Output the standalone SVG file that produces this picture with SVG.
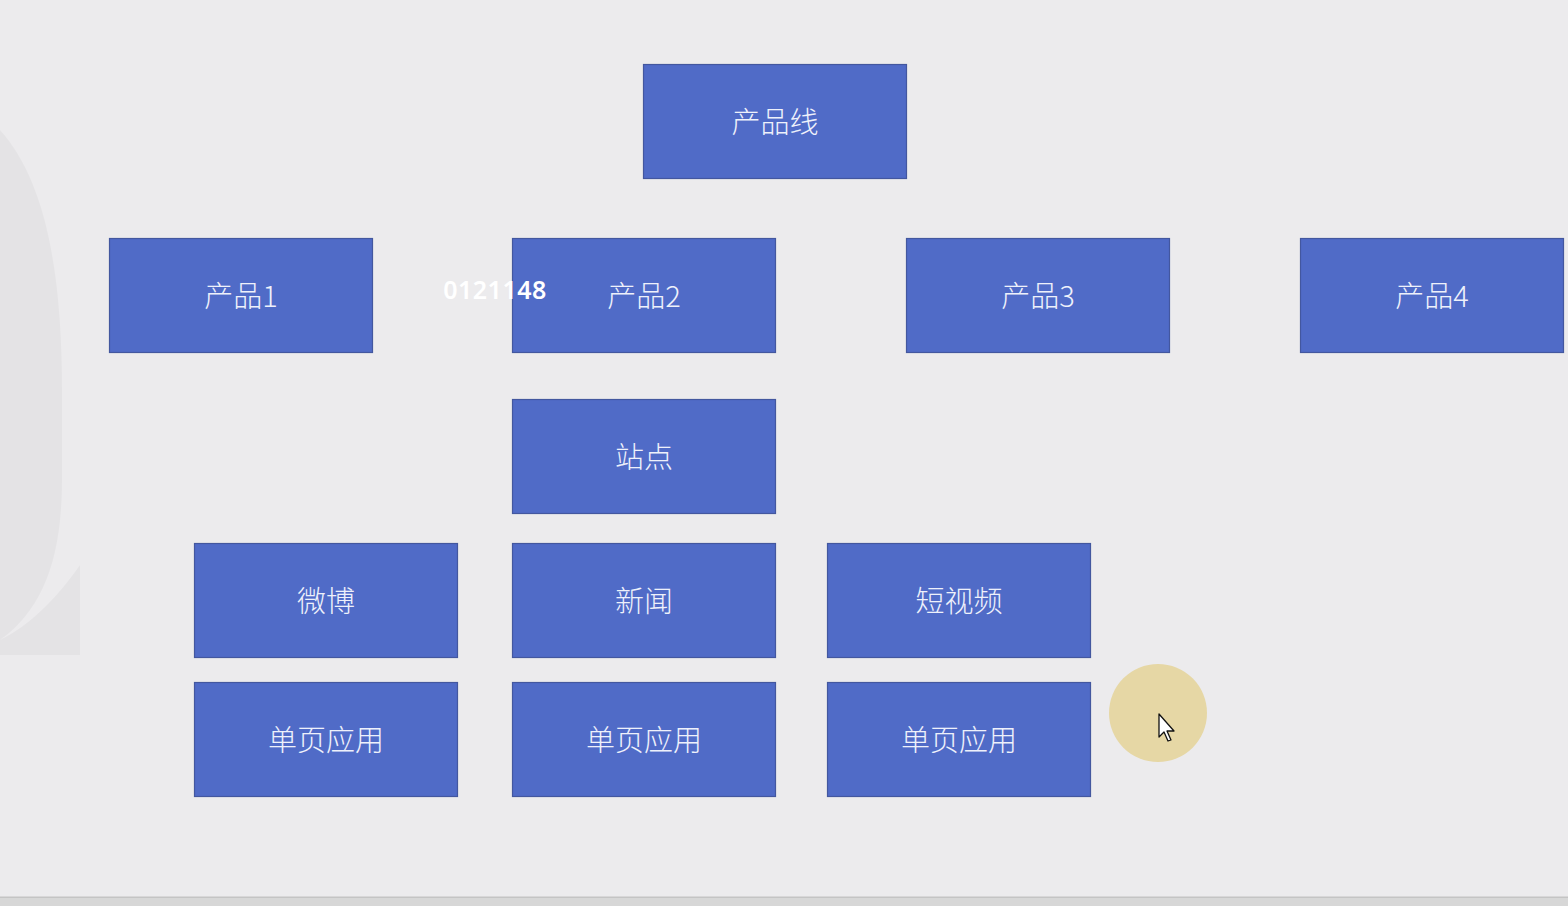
<svg xmlns="http://www.w3.org/2000/svg" width="1568" height="906" viewBox="0 0 1568 906">
<style>
.box rect{fill:#506bc7;stroke:#43579f;stroke-width:1.2}
.box text{fill:#eef1fb;font-family:"Noto Sans CJK SC","Noto Sans",sans-serif;font-size:29px;font-weight:300;text-anchor:middle;dominant-baseline:central}
.wm{fill:#000;fill-opacity:0.03}
</style>
<rect x="0" y="0" width="1568" height="906" fill="#ecebed"/>
<g id="watermark">
<path class="wm" d="M0 130 C45 180 62 270 62 390 L62 480 C62 560 42 610 0 640 Z"/>
<path class="wm" d="M0 655 L80 655 L80 565 C55 600 30 625 0 640 Z"/>
</g>
<g id="connectors"></g>
<g id="n-line" class="box"><rect x="643.5" y="64.5" width="263" height="114"/><text x="775" y="120">产品线</text></g>
<g id="n-p1" class="box"><rect x="109.5" y="238.5" width="263" height="114"/><text x="241" y="294">产品1</text></g>
<g id="n-p2" class="box"><rect x="512.5" y="238.5" width="263" height="114"/><text x="644" y="294">产品2</text></g>
<g id="n-p3" class="box"><rect x="906.5" y="238.5" width="263" height="114"/><text x="1038" y="294">产品3</text></g>
<g id="n-p4" class="box"><rect x="1300.5" y="238.5" width="263" height="114"/><text x="1432" y="294">产品4</text></g>
<g id="n-site" class="box"><rect x="512.5" y="399.5" width="263" height="114"/><text x="644" y="455">站点</text></g>
<g id="n-weibo" class="box"><rect x="194.5" y="543.5" width="263" height="114"/><text x="326" y="599">微博</text></g>
<g id="n-news" class="box"><rect x="512.5" y="543.5" width="263" height="114"/><text x="644" y="599">新闻</text></g>
<g id="n-video" class="box"><rect x="827.5" y="543.5" width="263" height="114"/><text x="959" y="599">短视频</text></g>
<g id="n-spa1" class="box"><rect x="194.5" y="682.5" width="263" height="114"/><text x="326" y="738">单页应用</text></g>
<g id="n-spa2" class="box"><rect x="512.5" y="682.5" width="263" height="114"/><text x="644" y="738">单页应用</text></g>
<g id="n-spa3" class="box"><rect x="827.5" y="682.5" width="263" height="114"/><text x="959" y="738">单页应用</text></g>
<text x="495" y="289" fill="#ffffff" font-family="Noto Sans,sans-serif" font-weight="600" font-size="25" text-anchor="middle" dominant-baseline="central" letter-spacing="0.5">0121148</text>
<g id="cursor">
<circle cx="1158" cy="713" r="49" fill="#e6d7a5"/>
<path d="M1159 714 L1159 737 L1164 732 L1168 741 L1171 740 L1167 731 L1174 731 Z" fill="#ffffff" stroke="#111" stroke-width="1.3" stroke-linejoin="round"/>
</g>
<rect x="0" y="896.5" width="1568" height="1.5" fill="#c4c4c4"/>
<rect x="0" y="898" width="1568" height="8" fill="#d7d7d7"/>
</svg>
